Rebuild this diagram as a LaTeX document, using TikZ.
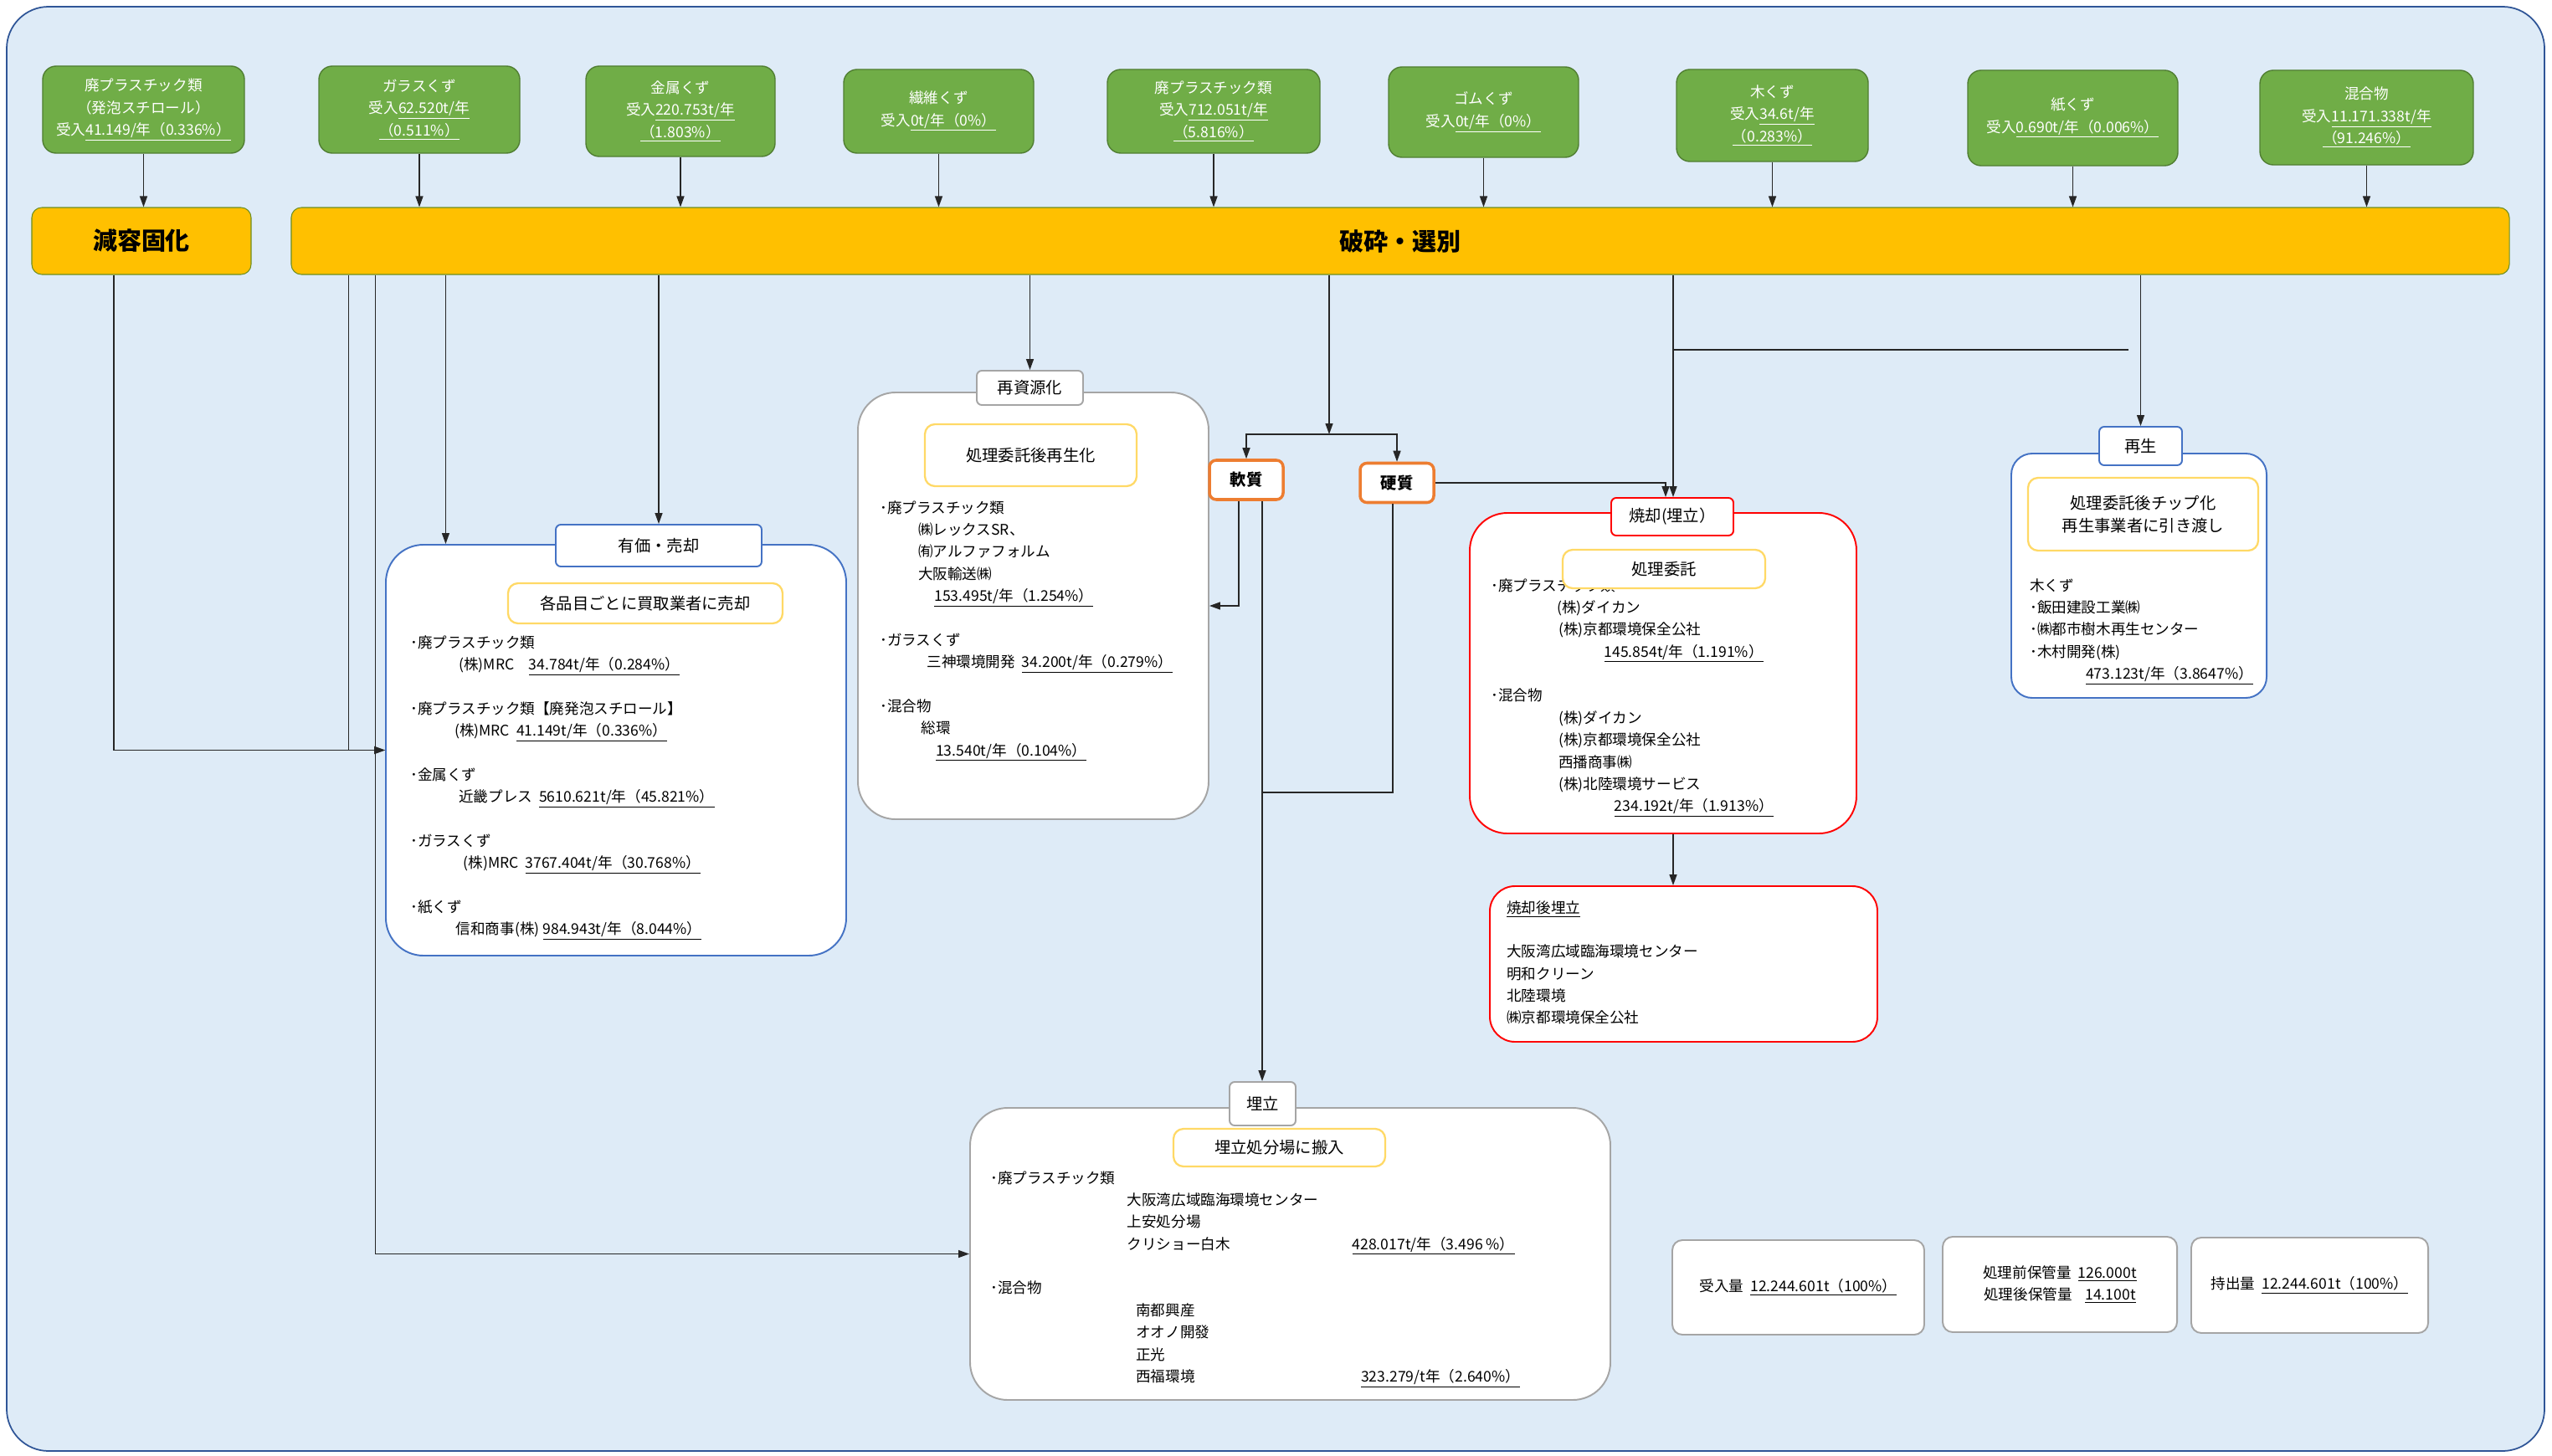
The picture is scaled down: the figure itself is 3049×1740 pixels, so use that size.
\documentclass[tikz,border=0pt]{standalone}
\usepackage{fontspec}
\setmainfont{Noto Sans CJK JP}
\usetikzlibrary{arrows.meta}

\definecolor{bgfill}{HTML}{DEEBF7}
\definecolor{bgline}{HTML}{2F5597}
\definecolor{leaf}{HTML}{70AD47}
\definecolor{leafline}{HTML}{507E32}
\definecolor{amber}{HTML}{FFC000}
\definecolor{amberline}{HTML}{6B8E23}
\definecolor{notice}{HTML}{FFD966}
\definecolor{azure}{HTML}{4472C4}
\definecolor{ashgray}{HTML}{A5A5A5}
\definecolor{flame}{HTML}{FF0000}
\definecolor{tangerine}{HTML}{ED7D31}

\newcommand\amt[1]{\underline{#1}}

\begin{document}
\begin{tikzpicture}[x=0.2mm,y=-0.2mm,
        font=\fontsize{10pt}{15pt}\selectfont,
        input node/.style={draw=leafline,fill=leaf,text=white,rounded corners=3.2mm,line width=0.8pt,align=center},
        step node/.style={draw=amberline,fill=amber,rounded corners=2.4mm,line width=0.6pt,font=\fontsize{16.5pt}{20pt}\selectfont\bfseries},
        group node/.style={draw=#1,fill=white,rounded corners=9mm,line width=1.1pt},
        tag node/.style={draw=#1,fill=white,rounded corners=1.2mm,line width=1.1pt,font=\fontsize{11pt}{15pt}\selectfont},
        kind node/.style={draw=tangerine,fill=white,rounded corners=1.6mm,line width=2pt,font=\fontsize{11pt}{15pt}\selectfont\bfseries,minimum width=17.6mm,minimum height=9.4mm},
        note node/.style={draw=notice,fill=white,rounded corners=2.4mm,line width=1.3pt,align=center,font=\fontsize{11pt}{15pt}\selectfont},
        list node/.style={anchor=north west,inner sep=0pt,align=left},
        sum node/.style={draw=ashgray,fill=white,rounded corners=2.4mm,line width=1.1pt,align=center},
        wire/.style={line width=0.8pt,draw=black!85},
        arrow/.style={wire,-{Triangle[length=2.6mm,width=1.8mm]}},
        ]

    \useasboundingbox (0,0) rectangle (3049,1740);
    \fill[white] (0,0) rectangle (3049,1740);
    \draw[draw=bgline,fill=bgfill,line width=1pt,rounded corners=10mm] (8,8) rectangle (3040,1734);

    % inputs
    \node[input node,minimum width=48.2mm,minimum height=20.8mm] (foam) at (171.5,131) {廃プラスチック類\\（発泡スチロール）\\受入\amt{41.149/年（0.336\%）}};
    \node[input node,minimum width=48mm,minimum height=20.8mm] (glass) at (501,131) {ガラスくず\\受入\amt{62.520t/年}\\\amt{（0.511\%）}};
    \node[input node,minimum width=45.2mm,minimum height=21.6mm] (metal) at (813,133) {金属くず\\受入\amt{220.753t/年}\\\amt{（1.803\%）}};
    \node[input node,minimum width=45.4mm,minimum height=20mm] (fiber) at (1121.5,133) {繊維くず\\受入\amt{0t/年（0\%）}};
    \node[input node,minimum width=50.8mm,minimum height=20mm] (plastic) at (1450,133) {廃プラスチック類\\受入\amt{712.051t/年}\\\amt{（5.816\%）}};
    \node[input node,minimum width=45.4mm,minimum height=21.6mm] (rubber) at (1772.5,134) {ゴムくず\\受入\amt{0t/年（0\%）}};
    \node[input node,minimum width=45.8mm,minimum height=22mm] (wood) at (2117.5,138) {木くず\\受入\amt{34.6t/年}\\\amt{（0.283\%）}};
    \node[input node,minimum width=50.2mm,minimum height=22.8mm] (paper) at (2476.5,141) {紙くず\\受入\amt{0.690t/年（0.006\%）}};
    \node[input node,minimum width=51mm,minimum height=22.6mm] (mixed) at (2827.5,140.5) {混合物\\受入\amt{11.171.338t/年}\\\amt{（91.246\%）}};

    % steps
    \node[step node,minimum width=52.4mm,minimum height=16mm] (reduce) at (169,288) {減容固化};
    \node[step node,minimum width=530mm,minimum height=16mm] (crush) at (1673,288) {破砕・選別};

    % sale
    \node[group node=azure,minimum width=110mm,minimum height=98.2mm] (sale) at (736,896.5) {};
    \node[tag node=azure,minimum width=49.2mm,minimum height=10mm] (saletag) at (787,652) {有価・売却};
    \node[note node,minimum width=65.6mm,minimum height=9.6mm] (salenote) at (771,721) {各品目ごとに買取業者に売却};
    \node[list node] (salelist) at (490,759) {･廃プラスチック類\\%
        \hspace*{3.3em}(株)MRC\quad\amt{34.784t/年（0.284\%）}\\[15pt]%
        ･廃プラスチック類【廃発泡スチロール】\\%
        \hspace*{3em}(株)MRC\ \ \amt{41.149t/年（0.336\%）}\\[15pt]%
        ･金属くず\\%
        \hspace*{3.3em}近畿プレス\ \ \amt{5610.621t/年（45.821\%）}\\[15pt]%
        ･ガラスくず\\%
        \hspace*{3.6em}(株)MRC\ \ \amt{3767.404t/年（30.768\%）}\\[15pt]%
        ･紙くず\\%
        \hspace*{3.1em}信和商事(株)\ \amt{984.943t/年（8.044\%）}};

    % recycling
    \node[group node=ashgray,minimum width=83.8mm,minimum height=102mm] (recyc) at (1234.5,724) {};
    \node[tag node=ashgray,minimum width=25.4mm,minimum height=8.2mm] (recyctag) at (1230.5,463.5) {再資源化};
    \node[note node,minimum width=50.6mm,minimum height=14.8mm] (recycnote) at (1231.5,544) {処理委託後再生化};
    \node[list node] (recyclist) at (1051,598) {･廃プラスチック類\\%
        \hspace*{2.6em}㈱レックスSR、\\%
        \hspace*{2.6em}㈲アルファフォルム\\%
        \hspace*{2.6em}大阪輸送㈱\\%
        \hspace*{3.7em}\amt{153.495t/年（1.254\%）}\\[15pt]%
        ･ガラスくず\\%
        \hspace*{3.2em}三神環境開発\ \ \amt{34.200t/年（0.279\%）}\\[15pt]%
        ･混合物\\%
        \hspace*{2.8em}総環\\%
        \hspace*{3.8em}\amt{13.540t/年（0.104\%）}};

    % soft / hard
    \node[kind node] (soft) at (1489,573.5) {軟質};
    \node[kind node] (hard) at (1669,577) {硬質};

    % incineration
    \node[group node=flame,minimum width=92.4mm,minimum height=76.6mm] (burn) at (1987,804.5) {};
    \node[list node] (burnlist) at (1781,691) {･廃プラスチック類\\%
        \hspace*{4.5em}(株)ダイカン\\%
        \hspace*{4.6em}(株)京都環境保全公社\\%
        \hspace*{7.7em}\amt{145.854t/年（1.191\%）}\\[15pt]%
        ･混合物\\%
        \hspace*{4.6em}(株)ダイカン\\%
        \hspace*{4.6em}(株)京都環境保全公社\\%
        \hspace*{4.6em}西播商事㈱\\%
        \hspace*{4.6em}(株)北陸環境サービス\\%
        \hspace*{8.4em}\amt{234.192t/年（1.913\%）}};
    \node[note node,minimum width=48.4mm,minimum height=9.2mm] (burnnote) at (1988,680) {処理委託};
    \node[tag node=flame,minimum width=29.2mm,minimum height=9mm] (burntag) at (1998,617.5) {焼却(埋立）};

    % after incineration
    \node[group node=flame,rounded corners=6mm,minimum width=92.6mm,minimum height=37.2mm] (burial) at (2011.5,1152) {};
    \node[list node] (buriallist) at (1800,1076) {\amt{焼却後埋立}\\[15pt]%
        大阪湾広域臨海環境センター\\%
        明和クリーン\\%
        北陸環境\\%
        ㈱京都環境保全公社};

    % regeneration
    \node[group node=azure,rounded corners=5mm,minimum width=61mm,minimum height=58.4mm] (regen) at (2555.5,688) {};
    \node[tag node=azure,minimum width=19.8mm,minimum height=9.2mm] (regentag) at (2557.5,533) {再生};
    \node[note node,minimum width=55mm,minimum height=17.4mm] (regennote) at (2560.5,614.5) {処理委託後チップ化\\再生事業者に引き渡し};
    \node[list node] (regenlist) at (2425,691) {木くず\\%
        ･飯田建設工業㈱\\%
        ･㈱都市樹木再生センター\\%
        ･木村開発(株)\\%
        \hspace*{3.8em}\amt{473.123t/年（3.8647\%）}};

    % landfill
    \node[group node=ashgray,minimum width=153mm,minimum height=69.8mm] (land) at (1541.5,1498.5) {};
    \node[tag node=ashgray,minimum width=15.8mm,minimum height=10.4mm] (landtag) at (1508.5,1319) {埋立};
    \node[note node,minimum width=50.6mm,minimum height=9mm] (landnote) at (1528.5,1371.5) {埋立処分場に搬入};
    \node[list node] (landlist) at (1183,1399) {･廃プラスチック類\\%
        \hspace*{9.3em}大阪湾広域臨海環境センター\\%
        \hspace*{9.3em}上安処分場\\%
        \hspace*{9.3em}\makebox[15.3em][l]{クリショー白木}\amt{428.017t/年（3.496 \%）}\\[15pt]%
        ･混合物\\%
        \hspace*{9.9em}南都興産\\%
        \hspace*{9.9em}オオノ開發\\%
        \hspace*{9.9em}正光\\%
        \hspace*{9.9em}\makebox[15.3em][l]{西福環境}\amt{323.279/t年（2.640\%）}};

    % totals
    \node[sum node,minimum width=60.2mm,minimum height=22.6mm] (intake) at (2148.5,1538.5) {受入量\ \ \amt{12.244.601t（100\%）}};
    \node[sum node,minimum width=56mm,minimum height=22.8mm] (stock) at (2461,1535) {処理前保管量\ \ \amt{126.000t}\\処理後保管量\ \ \ \ \amt{14.100t}};
    \node[sum node,minimum width=56.6mm,minimum height=22.8mm] (outflow) at (2759.5,1536) {持出量\ \ \amt{12.244.601t（100\%）}};

    % connectors
    \draw[arrow] (foam.south) -- (foam.south |- reduce.north);
    \foreach \n in {glass,metal,fiber,plastic,rubber,wood,paper,mixed}
        \draw[arrow] (\n.south) -- (\n.south |- crush.north);

    \coordinate (feedA) at ([xshift=-6.6mm]reduce.south);
    \coordinate (feedB) at ([xshift=13.8mm]crush.south west);
    \coordinate (feedC) at ([xshift=20.2mm]crush.south west);
    \coordinate (feedD) at ([xshift=37mm]crush.south west);
    \draw[arrow] (feedA) |- (sale.west);
    \draw[arrow] (feedB) |- (sale.west);
    \draw[arrow] (feedC) |- (land.west);
    \draw[arrow] (feedD) -- (feedD |- sale.north);
    \draw[arrow] (crush.south -| saletag.north) -- (saletag.north);
    \draw[arrow] (crush.south -| recyctag.north) -- (recyctag.north);

    \coordinate (split) at (1588,519);
    \draw[arrow] (crush.south -| split) -- (split);
    \draw[arrow] (split) -| (soft.north);
    \draw[arrow] (split) -| (hard.north);

    \coordinate (softL) at ([xshift=-1.8mm]soft.south);
    \coordinate (softR) at ([xshift=3.8mm]soft.south);
    \coordinate (hardL) at ([xshift=-1mm]hard.south);
    \coordinate (merge) at (1508,947);
    \draw[arrow] (softL) |- (recyc.east);
    \draw[arrow] (softR) -- (softR |- landtag.north);
    \draw[wire] (hardL) |- (merge);

    \coordinate (burnA) at ([xshift=-1.6mm]burntag.north);
    \coordinate (burnB) at ([xshift=0.2mm]burntag.north);
    \coordinate (tap) at (2543,418);
    \draw[arrow] (hard.east) -| (burnA);
    \draw[arrow] (crush.south -| burnB) -- (burnB);
    \draw[wire] (tap) -- (tap -| burnB);
    \draw[arrow] (crush.south -| regentag.north) -- (regentag.north);

    \coordinate (burnout) at ([xshift=2.4mm]burn.south);
    \draw[arrow] (burnout) -- (burnout |- burial.north);
\end{tikzpicture}
\end{document}
